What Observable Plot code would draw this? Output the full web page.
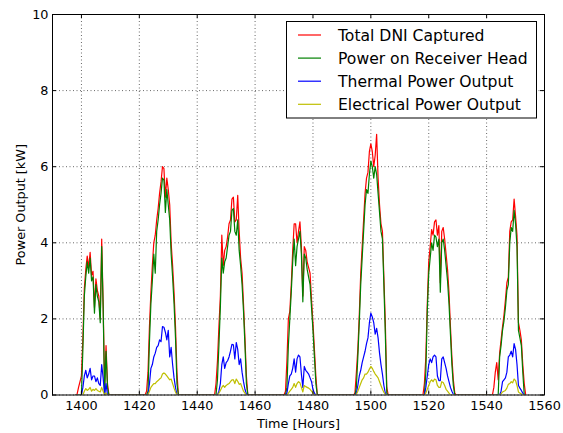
<!DOCTYPE html>
<html><head><meta charset="utf-8">
<script src="https://cdn.jsdelivr.net/npm/d3@7"></script>
<script src="https://cdn.jsdelivr.net/npm/@observablehq/plot@0.6"></script>
<style>
html,body{margin:0;padding:0;background:#fff;}
#chart{position:relative;width:563px;height:433px;}
</style></head><body><div id="chart"></div>
<script>
const seriesNames = ["Total DNI Captured", "Power on Receiver Head", "Thermal Power Output", "Electrical Power Output"];
const seriesColors = ["#ff0000", "#008000", "#0000ff", "#bfbf00"];
const dayStarts = [1398, 1422, 1446, 1470, 1494, 1518, 1542];
const stepHours = 0.5;
const xTicks = [1400, 1420, 1440, 1460, 1480, 1500, 1520, 1540, 1560];
const yTicks = [0, 2, 4, 6, 8, 10];

const totalDNI = [
  [0, 0.02, 0.2, 0.35, 0.5, 1.5, 2.8, 3.3, 3.65, 3.35, 3.75, 3.15, 3.25, 2.3, 3.05, 2.75, 2.6, 2.0, 4.1, 2.4, 0.2, 1.3, 0.3, 0],
  [0, 0.1, 0.6, 1.8, 2.7, 3.4, 4.0, 4.2, 4.6, 4.9, 5.3, 5.6, 6.0, 5.95, 5.2, 5.7, 5.4, 5.0, 4.0, 3.4, 2.7, 1.8, 0.6, 0],
  [0, 0.3, 0.9, 1.8, 2.6, 4.2, 3.4, 3.8, 3.9, 4.15, 4.5, 4.6, 5.15, 5.2, 4.55, 4.6, 5.25, 4.3, 3.6, 3.2, 2.4, 1.5, 0.5, 0],
  [0, 0.1, 0.9, 2.0, 2.2, 2.9, 3.8, 4.5, 4.5, 4.0, 4.3, 4.55, 3.9, 2.6, 3.9, 3.8, 3.5, 3.35, 3.2, 2.5, 1.9, 1.2, 0.5, 0],
  [0, 0.05, 0.6, 1.2, 2.1, 3.2, 3.9, 4.6, 5.3, 5.7, 5.85, 6.4, 6.6, 6.4, 6.0, 6.3, 6.85, 5.7, 5.0, 4.5, 4.3, 3.1, 1.9, 0.2, 0],
  [0, 0.3, 1.0, 2.4, 3.5, 3.9, 4.35, 4.2, 4.55, 4.6, 4.2, 4.45, 2.95, 4.3, 4.4, 4.1, 3.7, 3.3, 2.7, 1.8, 1.0, 0.4, 0.05, 0],
  [0, 0.2, 0.6, 0.85, 0.4, 1.1, 1.45, 1.8, 2.1, 2.5, 2.95, 3.1, 4.3, 4.55, 4.6, 5.15, 4.7, 4.2, 1.9, 1.7, 1.45, 0.8, 0.3, 0]
];
const receiverHead = [
  [0, 0, 0, 0, 0, 1.2, 2.6, 3.1, 3.5, 3.2, 3.6, 3.0, 3.1, 2.15, 2.9, 2.6, 2.45, 1.9, 3.9, 2.3, 0, 1.15, 0.2, 0],
  [0, 0, 0.1, 1.4, 2.4, 3.0, 3.7, 3.2, 4.3, 4.6, 5.0, 5.3, 5.7, 5.65, 4.8, 5.4, 5.0, 4.6, 3.7, 3.1, 2.4, 1.5, 0.3, 0],
  [0, 0, 0.4, 1.3, 2.3, 3.6, 3.2, 3.5, 3.6, 3.9, 4.2, 4.3, 4.85, 4.9, 4.3, 4.2, 4.6, 3.8, 3.4, 2.9, 2.2, 1.3, 0.3, 0],
  [0, 0, 0.2, 1.3, 2.0, 2.7, 3.5, 4.1, 3.4, 3.9, 4.1, 4.3, 3.7, 2.45, 3.7, 3.6, 3.3, 3.1, 2.9, 2.3, 1.7, 1.0, 0.3, 0],
  [0, 0, 0.2, 1.0, 1.9, 2.9, 3.6, 4.3, 5.0, 5.4, 5.3, 5.8, 6.15, 6.0, 5.7, 6.0, 5.8, 5.3, 4.8, 4.3, 4.1, 2.9, 1.6, 0.05, 0],
  [0, 0, 0.6, 2.2, 3.2, 3.6, 4.0, 3.8, 4.2, 4.15, 3.9, 4.1, 2.7, 4.0, 4.1, 3.8, 3.4, 3.0, 2.4, 1.6, 0.8, 0.25, 0, 0],
  [0, 0, 0, 0, 0, 1.0, 1.3, 1.7, 1.95, 2.3, 2.75, 2.9, 4.0, 4.4, 4.3, 4.85, 4.5, 3.9, 1.7, 1.5, 1.3, 0.6, 0, 0]
];
const thermalOutput = [
  [0, 0, 0, 0, 0, 0.2, 0.5, 0.65, 0.45, 0.55, 0.7, 0.4, 0.5, 0.5, 0.35, 0.45, 0.3, 0.25, 0.8, 0.45, 0, 0.3, 0, 0],
  [0, 0, 0, 0.3, 0.7, 0.8, 1.0, 1.1, 1.25, 1.3, 1.45, 1.4, 1.8, 1.78, 1.65, 1.45, 1.7, 1.0, 1.25, 0.8, 0.45, 0.2, 0, 0],
  [0, 0, 0, 0.1, 0.3, 0.8, 1.0, 0.7, 0.85, 0.9, 1.0, 1.15, 1.33, 1.32, 0.95, 1.38, 1.2, 0.8, 0.95, 0.6, 0.35, 0.15, 0.03, 0],
  [0, 0, 0.05, 0.3, 0.5, 0.55, 0.7, 0.95, 0.6, 0.95, 1.05, 1.0, 0.55, 0.2, 0.75, 0.65, 0.6, 0.55, 0.45, 0.35, 0.15, 0.05, 0, 0],
  [0, 0, 0.05, 0.25, 0.5, 0.65, 0.85, 1.0, 1.15, 1.35, 1.5, 1.9, 2.15, 2.05, 1.9, 1.6, 1.75, 1.5, 1.1, 0.8, 0.55, 0.25, 0.05, 0, 0],
  [0, 0, 0.2, 0.5, 0.8, 0.95, 0.85, 1.0, 1.05, 1.0, 0.5, 0.38, 0.38, 0.95, 1.0, 0.85, 0.7, 0.5, 0.35, 0.2, 0.1, 0.02, 0, 0],
  [0, 0, 0, 0, 0, 0, 0.1, 0.35, 0.4, 0.45, 0.6, 1.0, 1.05, 1.15, 1.0, 1.35, 1.2, 0.8, 0.25, 0.18, 0.12, 0.05, 0, 0]
];
const electricalOutput = [
  [0, 0, 0, 0, 0, 0, 0.1, 0.17, 0.12, 0.15, 0.2, 0.1, 0.15, 0.12, 0.17, 0.12, 0.1, 0.08, 0.2, 0.1, 0, 0.05, 0, 0],
  [0, 0, 0, 0.1, 0.2, 0.25, 0.3, 0.3, 0.35, 0.38, 0.42, 0.45, 0.55, 0.58, 0.55, 0.5, 0.45, 0.4, 0.42, 0.3, 0.18, 0.08, 0, 0],
  [0, 0, 0, 0.05, 0.12, 0.2, 0.25, 0.2, 0.25, 0.28, 0.3, 0.35, 0.4, 0.4, 0.3, 0.42, 0.36, 0.28, 0.3, 0.2, 0.1, 0.05, 0, 0],
  [0, 0, 0, 0.05, 0.1, 0.15, 0.2, 0.3, 0.2, 0.3, 0.35, 0.32, 0.2, 0.08, 0.25, 0.22, 0.2, 0.18, 0.15, 0.1, 0.05, 0, 0, 0],
  [0, 0, 0.02, 0.1, 0.2, 0.3, 0.4, 0.45, 0.55, 0.55, 0.6, 0.68, 0.75, 0.7, 0.62, 0.55, 0.5, 0.45, 0.35, 0.25, 0.15, 0.07, 0.02, 0, 0],
  [0, 0, 0.05, 0.15, 0.25, 0.35, 0.4, 0.35, 0.42, 0.4, 0.25, 0.2, 0.2, 0.35, 0.33, 0.25, 0.15, 0.1, 0.05, 0, 0, 0, 0, 0],
  [0, 0, 0, 0, 0, 0, 0.03, 0.08, 0.1, 0.12, 0.18, 0.28, 0.3, 0.35, 0.32, 0.42, 0.38, 0.25, 0.08, 0.05, 0.03, 0, 0, 0]
];

const allSeries = [totalDNI, receiverHead, thermalOutput, electricalOutput];
const rows = [];
allSeries.forEach((days, s) => {
  days.forEach((vals, d) => {
    vals.forEach((v, i) => rows.push({series: seriesNames[s], hour: dayStarts[d] + i * stepHours, value: v}));
  });
});

const W = 563, H = 433, mL = 52, mR = 19, mT = 14, mB = 38.5;
const innerW = W - mL - mR, innerH = H - mT - mB;
const font = "'DejaVu Sans', 'Bitstream Vera Sans', sans-serif";

const chart = Plot.plot({
  width: W, height: H,
  marginLeft: mL, marginRight: mR, marginTop: mT, marginBottom: mB,
  style: {fontFamily: font, fontSize: "12.8px", color: "#000", background: "#fff", overflow: "visible"},
  x: {domain: [1390, 1560]},
  y: {domain: [0, 10]},
  color: {domain: seriesNames, range: seriesColors},
  marks: [
    Plot.gridX(xTicks, {stroke: "#000", strokeOpacity: 0.75, strokeWidth: 0.8, strokeDasharray: "1,2.5"}),
    Plot.gridY(yTicks, {stroke: "#000", strokeOpacity: 0.75, strokeWidth: 0.8, strokeDasharray: "1,2.5"}),
    Plot.line(rows, {x: "hour", y: "value", z: "series", stroke: "series", strokeWidth: 1.2, clip: true}),
    Plot.tickX(xTicks, {x: d => d, stroke: "#000", insetTop: innerH - 4}),
    Plot.tickX(xTicks, {x: d => d, stroke: "#000", insetBottom: innerH - 4}),
    Plot.tickY(yTicks, {y: d => d, stroke: "#000", insetRight: innerW - 4}),
    Plot.tickY(yTicks, {y: d => d, stroke: "#000", insetLeft: innerW - 4}),
    Plot.axisX({ticks: xTicks, tickSize: 0, tickPadding: 6, tickFormat: d => String(d),
      label: "Time [Hours]", labelAnchor: "center", labelArrow: "none", labelOffset: 33}),
    Plot.axisY({ticks: yTicks, tickSize: 0, tickPadding: 4, tickFormat: d => String(d),
      label: "Power Output [kW]", labelAnchor: "center", labelArrow: "none", labelOffset: 37}),
    Plot.frame({stroke: "#000", strokeWidth: 1})
  ]
});

// legend (upper right, inside axes)
const svg = d3.select(chart);
const lg = svg.append("g").attr("font-family", font).attr("font-size", "15.6px").attr("text-anchor", "start");
lg.append("rect").attr("x", 286.5).attr("y", 21.5).attr("width", 250).attr("height", 96.5)
  .attr("fill", "#fff").attr("stroke", "#000").attr("stroke-width", 1);
seriesNames.forEach((name, i) => {
  const y = 35 + i * 23.1;
  lg.append("line").attr("x1", 298).attr("x2", 321).attr("y1", y).attr("y2", y)
    .attr("stroke", seriesColors[i]).attr("stroke-width", 1.2);
  lg.append("text").attr("x", 338).attr("y", y).attr("dy", "0.36em").attr("fill", "#000")
    .attr("text-anchor", "start").text(name);
});

document.getElementById("chart").appendChild(chart);
</script>
</body></html>
